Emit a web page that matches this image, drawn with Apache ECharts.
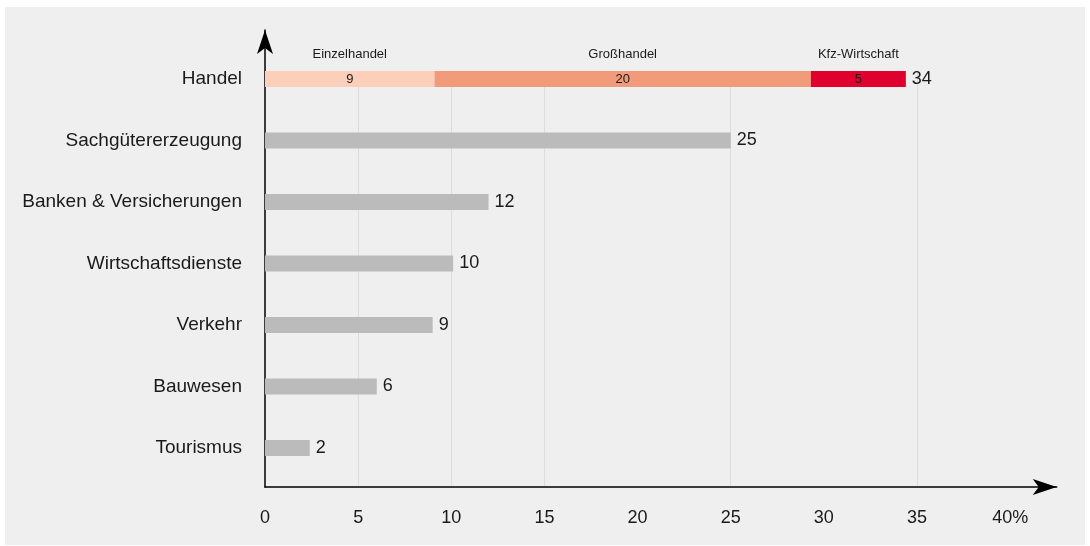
<!DOCTYPE html>
<html><head><meta charset="utf-8">
<script src="https://cdn.jsdelivr.net/npm/echarts@6/dist/echarts.min.js"></script>
<style>
html,body{margin:0;padding:0;background:#fff;}
#panel{position:absolute;left:5px;top:7px;width:1080px;height:538px;background:#efefef;}
#chart{position:absolute;left:0;top:0;width:1090px;height:546px;}
</style></head><body>
<div id="panel"></div><div id="chart"></div>
<script>
// ---- data ----
const categories = ['Handel', 'Sachgütererzeugung', 'Banken & Versicherungen', 'Wirtschaftsdienste', 'Verkehr', 'Bauwesen', 'Tourismus'];
const segmentNames = ['Einzelhandel', 'Großhandel', 'Kfz-Wirtschaft'];
const einzelhandel = [9.1, '-', '-', '-', '-', '-', '-'];
const grosshandel = [20.2, '-', '-', '-', '-', '-', '-'];
const kfzWirtschaft = [5.1, '-', '-', '-', '-', '-', '-'];
const sectorShare = [0, 25, 12, 10.1, 9, 6, 2.4];
const xTickValues = [0, 5, 10, 15, 20, 25, 30, 35, 40];
const gridlineValues = [5, 10, 15, 25, 35];
const X_MAX = 42.5;

// ---- chart ----
const FONT = '"Liberation Sans", Arial, "Helvetica Neue", sans-serif';
const TEXT = '#1a1a1a';
const segColors = ['#fbcfba', '#f29b7a', '#e0002e'];
const handelTotal = einzelhandel[0] + grosshandel[0] + kfzWirtschaft[0];

const allTicks = xTickValues.concat([X_MAX]);
const splitColors = allTicks.map(t => gridlineValues.includes(t) ? '#dcdcdc' : 'rgba(0,0,0,0)');

const PX_PER_UNIT = 18.629;
const G = { left: 265, width: X_MAX * PX_PER_UNIT };
const axisLineStyle = { color: '#000', width: 1.5 };

function segSeries(name, data, color) {
  return {
    name, type: 'bar', stack: 'h', xAxisIndex: 0, yAxisIndex: 0,
    data, barWidth: 16, itemStyle: { color },
    label: {
      show: true, position: 'inside', offset: [0, -12.5],
      formatter: p => `{n|${name}}\n{v|${Math.round(p.value)}}`,
      rich: {
        n: { fontSize: 13, lineHeight: 25, color: TEXT, fontFamily: FONT },
        v: { fontSize: 13, lineHeight: 25, color: TEXT, fontFamily: FONT }
      }
    }
  };
}

const chart = echarts.init(document.getElementById('chart'), null, { renderer: 'canvas' });
chart.setOption({
  animation: false,
  backgroundColor: 'transparent',
  textStyle: { fontFamily: FONT },
  grid: [
    { left: G.left, width: G.width, top: 48.25, height: 430.5 },
    { left: G.left, width: G.width, top: 30, height: 457 },
    { left: G.left, width: G.width, top: 71, height: 416 }
  ],
  xAxis: [
    { gridIndex: 0, type: 'value', min: 0, max: X_MAX, show: false },
    {
      gridIndex: 1, type: 'value', min: 0, max: X_MAX, interval: 5,
      axisLine: { show: true, onZero: false, symbol: ['none', 'arrow'], symbolSize: [12, 24], lineStyle: axisLineStyle },
      axisTick: { show: false }, splitLine: { show: false },
      axisLabel: {
        margin: 22, fontSize: 18, color: TEXT, fontFamily: FONT,
        showMaxLabel: true,
        formatter: v => (xTickValues.includes(v) ? (v === xTickValues[xTickValues.length - 1] ? v + '%' : String(v)) : '')
      }
    },
    {
      gridIndex: 2, type: 'value', min: 0, max: X_MAX, interval: 5,
      axisLine: { show: false }, axisTick: { show: false }, axisLabel: { show: false },
      splitLine: { show: true, lineStyle: { color: splitColors, width: 1 } }
    }
  ],
  yAxis: [
    {
      gridIndex: 0, type: 'category', data: categories, inverse: true,
      axisLine: { show: false }, axisTick: { show: false }, splitLine: { show: false },
      axisLabel: { margin: 23, fontSize: 19, color: TEXT, fontFamily: FONT }
    },
    {
      gridIndex: 1, type: 'value', min: 0, max: 1,
      axisLine: { show: true, onZero: false, symbol: ['none', 'arrow'], symbolSize: [12, 24], lineStyle: axisLineStyle },
      axisTick: { show: false }, axisLabel: { show: false }, splitLine: { show: false }
    },
    { gridIndex: 2, type: 'value', min: 0, max: 1, show: false, splitLine: { show: false } }
  ],
  series: [
    segSeries(segmentNames[0], einzelhandel, segColors[0]),
    segSeries(segmentNames[1], grosshandel, segColors[1]),
    segSeries(segmentNames[2], kfzWirtschaft, segColors[2]),
    {
      name: 'Anteil', type: 'bar', stack: 'h', xAxisIndex: 0, yAxisIndex: 0,
      data: sectorShare, barWidth: 16, itemStyle: { color: '#bbbbbb' },
      label: {
        show: true, position: 'right', distance: 6,
        fontSize: 18, color: TEXT, fontFamily: FONT,
        formatter: p => String(Math.round(p.dataIndex === 0 ? handelTotal : p.value))
      }
    }
  ]
});
</script>
</body></html>
